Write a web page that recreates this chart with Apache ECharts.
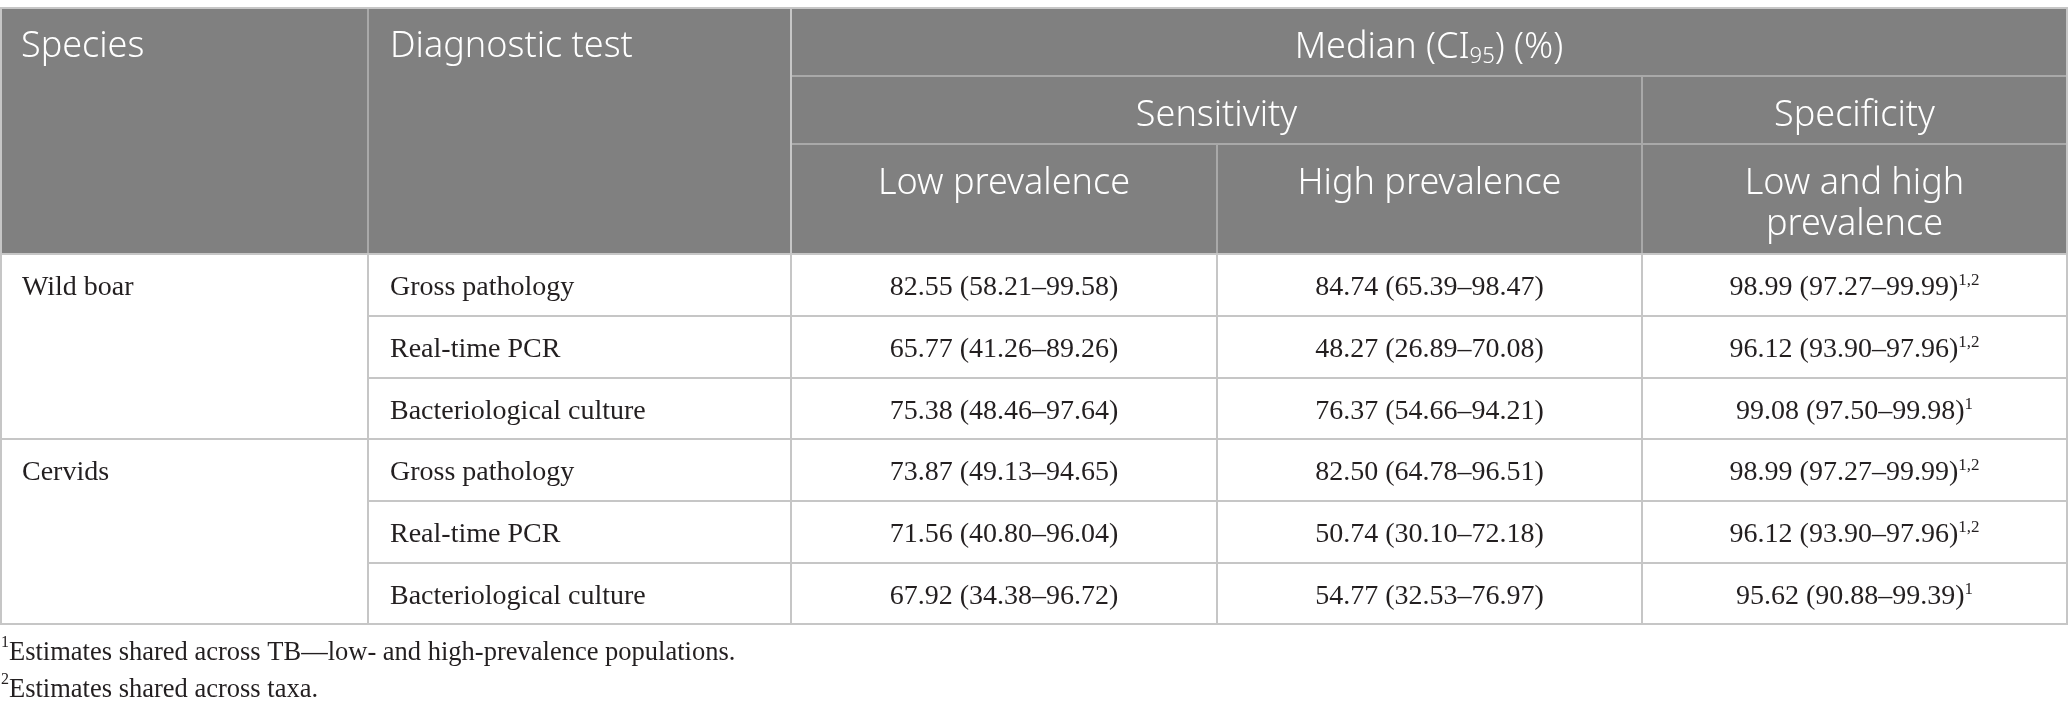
<!DOCTYPE html>
<html>
<head>
<meta charset="utf-8">
<script src="https://cdn.jsdelivr.net/npm/echarts@6/dist/echarts.min.js"></script>
<style>
html,body{margin:0;padding:0;background:#ffffff;}
#chart{width:2068px;height:717px;}
</style>
</head>
<body>
<div id="chart"></div>
<script>
// ---------- data ----------
const species = ['Wild boar', 'Cervids'];
const tests = ['Gross pathology', 'Real-time PCR', 'Bacteriological culture'];
const cornerLabels = ['Species', 'Diagnostic test'];
const topHeader = 'Median (CI{sub|95}) (%)';
const measureGroups = ['Sensitivity', 'Specificity'];
const sensitivityCols = ['Low prevalence', 'High prevalence'];
const specificityCols = ['Low and high\nprevalence'];

const sensLowMedian = [82.55, 65.77, 75.38, 73.87, 71.56, 67.92];
const sensLowLower  = [58.21, 41.26, 48.46, 49.13, 40.80, 34.38];
const sensLowUpper  = [99.58, 89.26, 97.64, 94.65, 96.04, 96.72];

const sensHighMedian = [84.74, 48.27, 76.37, 82.50, 50.74, 54.77];
const sensHighLower  = [65.39, 26.89, 54.66, 64.78, 30.10, 32.53];
const sensHighUpper  = [98.47, 70.08, 94.21, 96.51, 72.18, 76.97];

const specMedian = [98.99, 96.12, 99.08, 98.99, 96.12, 95.62];
const specLower  = [97.27, 93.90, 97.50, 97.27, 93.90, 90.88];
const specUpper  = [99.99, 97.96, 99.98, 99.99, 97.96, 99.39];
const specNotes  = ['1,2', '1,2', '1', '1,2', '1,2', '1'];

const footnoteMarks = ['1', '2'];
const footnotes = [
  'Estimates shared across TB\u2014low- and high-prevalence populations.',
  'Estimates shared across taxa.'
];

// ---------- style ----------
const SANS = '"Noto Sans", "Open Sans", sans-serif';
const SERIF = '"Liberation Serif", "DejaVu Serif", serif';
const HEAD_BG = '#808080';
const HEAD_LINE = '#a9a9a9';
const BODY_LINE = '#c6c6c6';
const TEXT = '#231f20';

const fmt = v => v.toFixed(2);
const cellText = (m, lo, hi) => fmt(m) + ' (' + fmt(lo) + '\u2013' + fmt(hi) + ')';

const bodyData = [];
const nRows = sensLowMedian.length;
for (let r = 0; r < nRows; r++) {
  bodyData.push({ coord: [0, r], value: cellText(sensLowMedian[r], sensLowLower[r], sensLowUpper[r]) });
  bodyData.push({ coord: [1, r], value: cellText(sensHighMedian[r], sensHighLower[r], sensHighUpper[r]) });
  bodyData.push({ coord: [2, r], value: cellText(specMedian[r], specLower[r], specUpper[r]) + '{sup|' + specNotes[r] + '}' });
}

// category names must be unique inside the matrix: pad repeated names with trailing spaces (invisible, left aligned)
const yData = species.map((s, si) => ({
  value: s,
  label: { position: [18, 18], verticalAlign: 'top' },
  children: tests.map(t => ({
    value: t + ' '.repeat(si),
    label: { position: [19, 18], verticalAlign: 'top' }
  }))
}));

const headerLabel = {
  color: '#ffffff', fontFamily: SANS, fontSize: 36, fontWeight: 300, lineHeight: 41,
  position: 'insideTop', distance: 17, overflow: 'none',
  rich: {
    sub: { color: '#ffffff', fontFamily: SANS, fontSize: 22, fontWeight: 300, lineHeight: 22, verticalAlign: 'bottom' }
  }
};

const option = {
  backgroundColor: '#ffffff',
  animation: false,
  title: {
    left: 1, top: 635, padding: 0,
    text: footnotes.map((t, i) => '{sup|' + footnoteMarks[i] + '}' + t).join('\n'),
    textStyle: {
      fontFamily: SERIF, fontSize: 26.5, color: TEXT, fontWeight: 'normal', lineHeight: 37,
      rich: { sup: { fontFamily: SERIF, fontSize: 16, color: TEXT, lineHeight: 30, verticalAlign: 'top' } }
    }
  },
  matrix: {
    left: 1, top: 8, width: 2066, height: 616,
    backgroundStyle: { color: '#ffffff', borderColor: BODY_LINE, borderWidth: 2 },
    x: {
      levels: [{ levelSize: 68 }, { levelSize: 68 }, { levelSize: 110 }],
      itemStyle: { color: HEAD_BG, borderColor: HEAD_LINE, borderWidth: 2 },
      label: headerLabel,
      dividerLineStyle: { color: BODY_LINE, width: 2 },
      data: [{
        value: topHeader,
        children: [
          { value: measureGroups[0], children: sensitivityCols.map(v => ({ value: v })) },
          { value: measureGroups[1], children: specificityCols.map(v => ({ value: v })) }
        ]
      }]
    },
    y: {
      levels: [{ levelSize: 367 }, { levelSize: 423 }],
      itemStyle: { color: '#ffffff', borderColor: BODY_LINE, borderWidth: 2 },
      label: { color: TEXT, fontFamily: SERIF, fontSize: 28, lineHeight: 28, overflow: 'none' },
      dividerLineStyle: { color: BODY_LINE, width: 2 },
      data: yData
    },
    corner: {
      itemStyle: { color: HEAD_BG, borderColor: HEAD_LINE, borderWidth: 2 },
      label: Object.assign({}, headerLabel, { verticalAlign: 'top' }),
      data: [
        { coord: [-2, [-3, -1]], mergeCells: true, value: cornerLabels[0], label: { position: [17, 16] } },
        { coord: [-1, [-3, -1]], mergeCells: true, value: cornerLabels[1], label: { position: [19, 16] } }
      ]
    },
    body: {
      itemStyle: { color: '#ffffff', borderColor: BODY_LINE, borderWidth: 2 },
      label: {
        color: TEXT, fontFamily: SERIF, fontSize: 28, lineHeight: 32,
        position: 'insideTop', distance: 16, overflow: 'none',
        rich: { sup: { color: TEXT, fontFamily: SERIF, fontSize: 17, lineHeight: 26, verticalAlign: 'top' } }
      },
      data: bodyData
    }
  }
};

const chart = echarts.init(document.getElementById('chart'), null, { renderer: 'canvas' });
chart.setOption(option);
</script>
</body>
</html>
